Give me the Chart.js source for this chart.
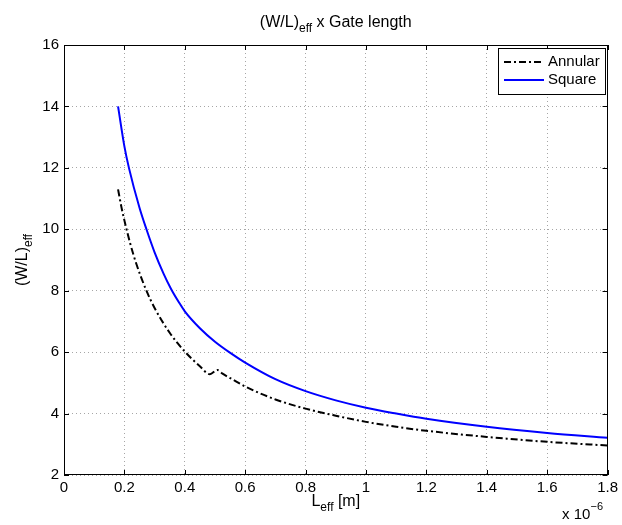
<!DOCTYPE html>
<html>
<head>
<meta charset="utf-8">
<script src="https://cdn.jsdelivr.net/npm/chart.js@4"></script>
<style>
  html, body { margin: 0; padding: 0; background: #fff; }
</style>
</head>
<body>
<canvas id="myChart" width="622" height="525"></canvas>
<script>
// Leff in units of 1e-6 m (axis shows the "x 10^-6" multiplier)
const annularLeff = [0.179, 0.19, 0.2, 0.22, 0.24, 0.273, 0.3, 0.35, 0.4, 0.45, 0.483, 0.508, 0.525, 0.56, 0.6, 0.7, 0.8, 0.9, 1.0, 1.1, 1.2, 1.4, 1.6, 1.8];
const annularWL = [11.3, 10.73, 10.29, 9.51, 8.86, 8.0, 7.44, 6.63, 6.02, 5.54, 5.28, 5.42, 5.3, 5.1, 4.88, 4.46, 4.16, 3.93, 3.73, 3.57, 3.44, 3.24, 3.08, 2.96];

const squareLeff = [0.179, 0.2, 0.215, 0.25, 0.273, 0.3, 0.33, 0.355, 0.382, 0.4, 0.45, 0.5, 0.553, 0.6, 0.7, 0.8, 0.9, 1.0, 1.1, 1.2, 1.4, 1.6, 1.8];
const squareWL = [14.0, 12.7, 12.0, 10.7, 10.0, 9.25, 8.55, 8.05, 7.6, 7.33, 6.78, 6.34, 5.96, 5.66, 5.12, 4.73, 4.43, 4.19, 4.0, 3.83, 3.57, 3.37, 3.21];

const seriesLabels = ['Annular', 'Square'];
const xTicks = [0, 0.2, 0.4, 0.6, 0.8, 1, 1.2, 1.4, 1.6, 1.8];
const yTicks = [2, 4, 6, 8, 10, 12, 14, 16];

const FONT = "'Liberation Sans', Arial, Helvetica, sans-serif";
function font(size) { return size + 'px ' + FONT; }

function toPoints(xs, ys) {
    return xs.map(function(x, i) { return { x: x, y: ys[i] }; });
}

// text made of pieces (for sub/superscripts)
function drawPieces(ctx, pieces, x, y, align) {
    let total = 0;
    pieces.forEach(function(p) {
        ctx.font = font(p.size);
        p.w = ctx.measureText(p.t).width;
        total += p.w;
    });
    let cx = align === 'center' ? x - total / 2 : (align === 'right' ? x - total : x);
    ctx.textAlign = 'left';
    ctx.textBaseline = 'alphabetic';
    pieces.forEach(function(p) {
        ctx.font = font(p.size);
        ctx.fillText(p.t, cx, y + (p.dy || 0));
        cx += p.w;
    });
}

const matlabLook = {
    id: 'matlabLook',
    afterDraw: function(chart) {
        const ctx = chart.ctx;
        const a = chart.chartArea;
        const xs = chart.scales.x, ys = chart.scales.y;
        ctx.save();

        // box
        ctx.strokeStyle = '#000';
        ctx.lineWidth = 1;
        ctx.strokeRect(Math.round(a.left) + 0.5, Math.round(a.top) + 0.5,
            Math.round(a.right - a.left) - 1, Math.round(a.bottom - a.top) - 1);

        // inward tick marks on all four sides
        ctx.beginPath();
        xTicks.forEach(function(v) {
            const px = Math.round(xs.getPixelForValue(v)) + 0.5;
            ctx.moveTo(px, a.bottom); ctx.lineTo(px, a.bottom - 5);
            ctx.moveTo(px, a.top); ctx.lineTo(px, a.top + 5);
        });
        yTicks.forEach(function(v) {
            const py = Math.round(ys.getPixelForValue(v)) + 0.5;
            ctx.moveTo(a.left, py); ctx.lineTo(a.left + 5, py);
            ctx.moveTo(a.right, py); ctx.lineTo(a.right - 5, py);
        });
        ctx.stroke();

        ctx.fillStyle = '#000';
        const cx = (a.left + a.right) / 2;
        const cy = (a.top + a.bottom) / 2;

        // title
        drawPieces(ctx, [
            { t: '(W/L)', size: 16 },
            { t: 'eff', size: 12, dy: 5 },
            { t: ' x Gate length', size: 16 }
        ], cx, 27, 'center');

        // x label
        drawPieces(ctx, [
            { t: 'L', size: 16 },
            { t: 'eff', size: 12, dy: 5 },
            { t: ' [m]', size: 16 }
        ], cx, 506, 'center');

        // exponent
        drawPieces(ctx, [
            { t: 'x 10', size: 15 },
            { t: '\u22126', size: 11, dy: -9 }
        ], 603, 519, 'right');

        // y label
        ctx.save();
        ctx.translate(27, cy);
        ctx.rotate(-Math.PI / 2);
        drawPieces(ctx, [
            { t: '(W/L)', size: 16 },
            { t: 'eff', size: 12, dy: 5 }
        ], 0, 0, 'center');
        ctx.restore();

        // legend box
        const lx = 498, ly = 48, lw = 107, lh = 46;
        ctx.fillStyle = '#fff';
        ctx.fillRect(lx, ly, lw, lh);
        ctx.strokeStyle = '#000';
        ctx.strokeRect(lx + 0.5, ly + 0.5, lw, lh);
        chart.data.datasets.forEach(function(ds, i) {
            const rowY = ly + 14 + i * 18;
            ctx.save();
            ctx.strokeStyle = ds.borderColor;
            ctx.lineWidth = ds.borderWidth;
            ctx.setLineDash(ds.borderDash || []);
            ctx.beginPath();
            ctx.moveTo(lx + 6, rowY);
            ctx.lineTo(lx + 46, rowY);
            ctx.stroke();
            ctx.restore();
            ctx.fillStyle = '#000';
            ctx.font = font(15);
            ctx.textAlign = 'left';
            ctx.textBaseline = 'middle';
            ctx.fillText(ds.label, lx + 50, rowY);
        });

        ctx.restore();
    }
};

const ctx = document.getElementById('myChart').getContext('2d');
new Chart(ctx, {
    type: 'scatter',
    data: {
        datasets: [
            {
                label: seriesLabels[0],
                data: toPoints(annularLeff, annularWL),
                showLine: true,
                borderColor: '#000000',
                borderWidth: 2,
                borderDash: [7, 3, 2, 3],
                pointRadius: 0,
                cubicInterpolationMode: 'monotone'
            },
            {
                label: seriesLabels[1],
                data: toPoints(squareLeff, squareWL),
                showLine: true,
                borderColor: '#0000ff',
                borderWidth: 2,
                pointRadius: 0,
                cubicInterpolationMode: 'monotone'
            }
        ]
    },
    options: {
        responsive: false,
        animation: false,
        devicePixelRatio: 1,
        layout: { padding: { top: 45, right: 12, left: 0, bottom: 0 } },
        plugins: {
            legend: { display: false },
            title: { display: false },
            tooltip: { enabled: false }
        },
        scales: {
            x: {
                type: 'linear',
                min: 0,
                max: 1.8,
                afterBuildTicks: function(scale) {
                    scale.ticks = xTicks.map(function(v) { return { value: v }; });
                },
                afterFit: function(scale) { scale.height = 50; },
                ticks: {
                    color: '#000',
                    font: { family: FONT, size: 15 },
                    padding: 4,
                    maxRotation: 0,
                    callback: function(v) { return String(Number(v.toFixed(1))); }
                },
                grid: { color: 'rgba(0,0,0,0.35)', lineWidth: 1, drawTicks: false },
                border: { display: false, dash: [1, 3] }
            },
            y: {
                type: 'linear',
                min: 2,
                max: 16,
                afterBuildTicks: function(scale) {
                    scale.ticks = yTicks.map(function(v) { return { value: v }; });
                },
                afterFit: function(scale) { scale.width = 64; },
                ticks: {
                    color: '#000',
                    font: { family: FONT, size: 15 },
                    padding: 5
                },
                grid: { color: 'rgba(0,0,0,0.35)', lineWidth: 1, drawTicks: false },
                border: { display: false, dash: [1, 3] }
            }
        }
    },
    plugins: [matlabLook]
});
</script>
</body>
</html>
